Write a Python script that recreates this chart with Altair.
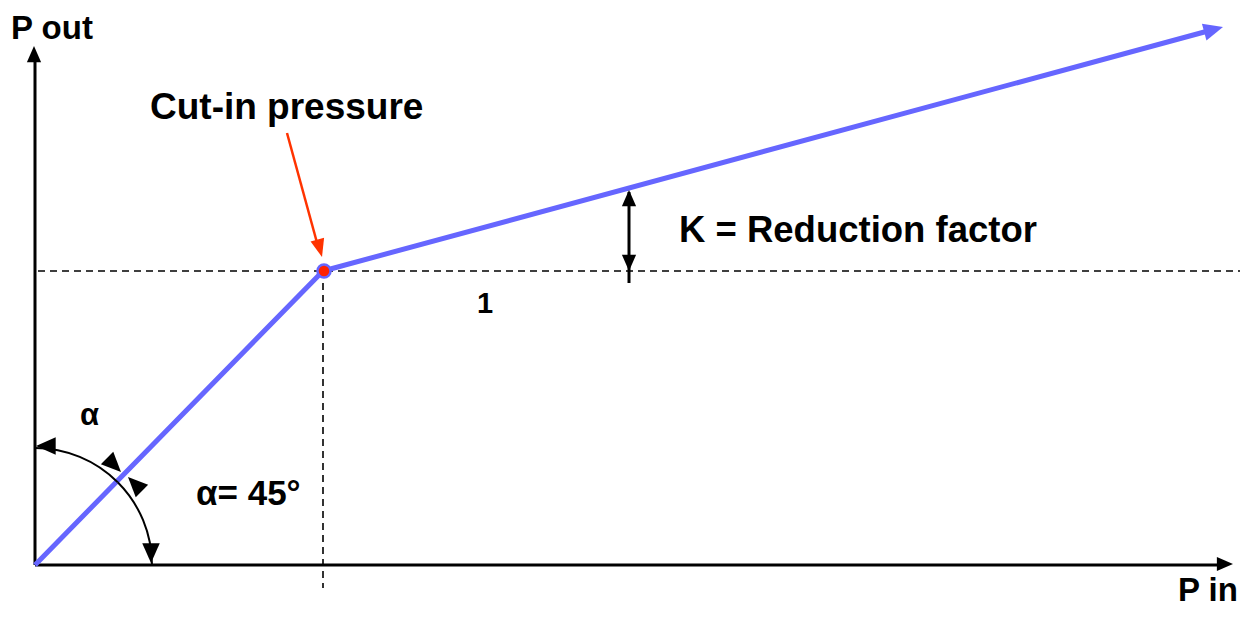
import math
import altair as alt
import pandas as pd

# ---- canvas (data units = page pixels) ----
W, H = 1240, 600
X0, Y0 = 8, 8

# ---- diagram values ----
curve_x = [35, 323, 1208]
curve_y = [565, 271, 31]
cutin_x = [324]
cutin_y = [271]

axis_x = [35, 35]
axis_y = [565, 565]
axis_x2 = [35, 1222]
axis_y2 = [58, 565]

dash_x = [38, 323]
dash_y = [271, 271]
dash_x2 = [1240, 323]
dash_y2 = [271, 588]

k_x = [629]
k_y = [192]
k_y2 = [283]

red_x = [287]
red_y = [133]
red_x2 = [319]
red_y2 = [250]

head_x = [34, 1233, 629, 629]
head_y = [46, 564, 190, 271]
head_angle = [0, 90, 0, 180]

arc_head_x = [36, 121, 128, 151]
arc_head_y = [446, 472, 477, 563]
arc_head_angle = [270, 135, 315, 180]

blue_head_x = [1223]
blue_head_y = [27]
blue_head_angle = [75]

red_head_x = [322]
red_head_y = [257]
red_head_angle = [165]

arc_cx = [35, 35]
arc_cy = [565, 565]
arc_t1 = [0, 45]
arc_t2 = [45, 90]
arc_r = [117, 117]

labels = ["P out", "P  in", "Cut-in pressure", "K = Reduction factor", "1", "α", "α= 45°"]
label_x = [11, 1178, 150, 679, 477, 80, 196]
label_y = [39, 601, 119, 242, 313, 425, 505]
label_size = [33, 33, 37, 36.5, 29, 31, 35]

BLUE = "#6666ff"
RED = "#ff3300"
FONT = "Liberation Sans"

xs = alt.Scale(domain=[X0, X0 + W])
ys = alt.Scale(domain=[Y0, Y0 + H], reverse=True)


def X(f):
    return alt.X(f, type="quantitative", scale=xs, axis=None)


def Y(f):
    return alt.Y(f, type="quantitative", scale=ys, axis=None)


HEAD = "M0,0L-0.75,1.7L0.75,1.7Z"
ARC_HEAD = "M0,0L-0.8,1.8L0.8,1.8Z"

dashed = alt.Chart(pd.DataFrame({"x": dash_x, "y": dash_y, "x2": dash_x2, "y2": dash_y2})).mark_rule(
    color="black", strokeWidth=1.6, strokeDash=[7, 5]
).encode(x=X("x"), y=Y("y"), x2="x2:Q", y2="y2:Q")

axes = alt.Chart(pd.DataFrame({"x": axis_x, "y": axis_y, "x2": axis_x2, "y2": axis_y2})).mark_rule(
    color="black", strokeWidth=3
).encode(x=X("x"), y=Y("y"), x2="x2:Q", y2="y2:Q")

curve = alt.Chart(pd.DataFrame({"x": curve_x, "y": curve_y, "o": [0, 1, 2]})).mark_line(
    color=BLUE, strokeWidth=5, strokeJoin="round"
).encode(x=X("x"), y=Y("y"), order="o:Q")

arcs = alt.Chart(pd.DataFrame({
    "x": arc_cx, "y": arc_cy,
    "t1": [math.radians(v) for v in arc_t1],
    "t2": [math.radians(v) for v in arc_t2],
    "r1": [r - 1 for r in arc_r], "r2": [r + 1 for r in arc_r],
})).mark_arc(color="black").encode(
    x=X("x"), y=Y("y"),
    theta=alt.Theta("t1:Q", scale=None), theta2="t2:Q",
    radius=alt.Radius("r1:Q", scale=None), radius2="r2:Q",
)

k_rule = alt.Chart(pd.DataFrame({"x": k_x, "y": k_y, "y2": k_y2})).mark_rule(
    color="black", strokeWidth=3
).encode(x=X("x"), y=Y("y"), y2="y2:Q")

red_rule = alt.Chart(pd.DataFrame({"x": red_x, "y": red_y, "x2": red_x2, "y2": red_y2})).mark_rule(
    color=RED, strokeWidth=2.5
).encode(x=X("x"), y=Y("y"), x2="x2:Q", y2="y2:Q")

heads = alt.Chart(pd.DataFrame({"x": head_x, "y": head_y, "a": head_angle})).mark_point(
    shape=HEAD, filled=True, color="black", opacity=1, size=360
).encode(x=X("x"), y=Y("y"), angle=alt.Angle("a:Q", scale=None))

arc_heads = alt.Chart(pd.DataFrame({"x": arc_head_x, "y": arc_head_y, "a": arc_head_angle})).mark_point(
    shape=ARC_HEAD, filled=True, color="black", opacity=1, size=480
).encode(x=X("x"), y=Y("y"), angle=alt.Angle("a:Q", scale=None))

blue_head = alt.Chart(pd.DataFrame({"x": blue_head_x, "y": blue_head_y, "a": blue_head_angle})).mark_point(
    shape="M0,0L-0.85,1.9L0.85,1.9Z", filled=True, color=BLUE, opacity=1, size=420
).encode(x=X("x"), y=Y("y"), angle=alt.Angle("a:Q", scale=None))

red_head = alt.Chart(pd.DataFrame({"x": red_head_x, "y": red_head_y, "a": red_head_angle})).mark_point(
    shape="M0,0L-0.7,1.8L0.7,1.8Z", filled=True, color=RED, opacity=1, size=400
).encode(x=X("x"), y=Y("y"), angle=alt.Angle("a:Q", scale=None))

dot = alt.Chart(pd.DataFrame({"x": cutin_x, "y": cutin_y})).mark_point(
    shape="circle", filled=True, fill="#ff2200", stroke=BLUE, strokeWidth=2.5, opacity=1, size=170
).encode(x=X("x"), y=Y("y"))

texts = alt.Chart(pd.DataFrame({"t": labels, "x": label_x, "y": label_y, "s": label_size})).mark_text(
    align="left", baseline="alphabetic", font=FONT, fontWeight="bold", color="black"
).encode(x=X("x"), y=Y("y"), text="t:N", size=alt.Size("s:Q", scale=None))

chart = alt.layer(
    dashed, axes, curve, arcs, k_rule, red_rule, heads, arc_heads, blue_head, red_head, dot, texts
).properties(width=W, height=H, padding=0, autosize="none").configure_view(stroke=None)

chart.save("out.html", embed_options={"renderer": "svg", "actions": False})
